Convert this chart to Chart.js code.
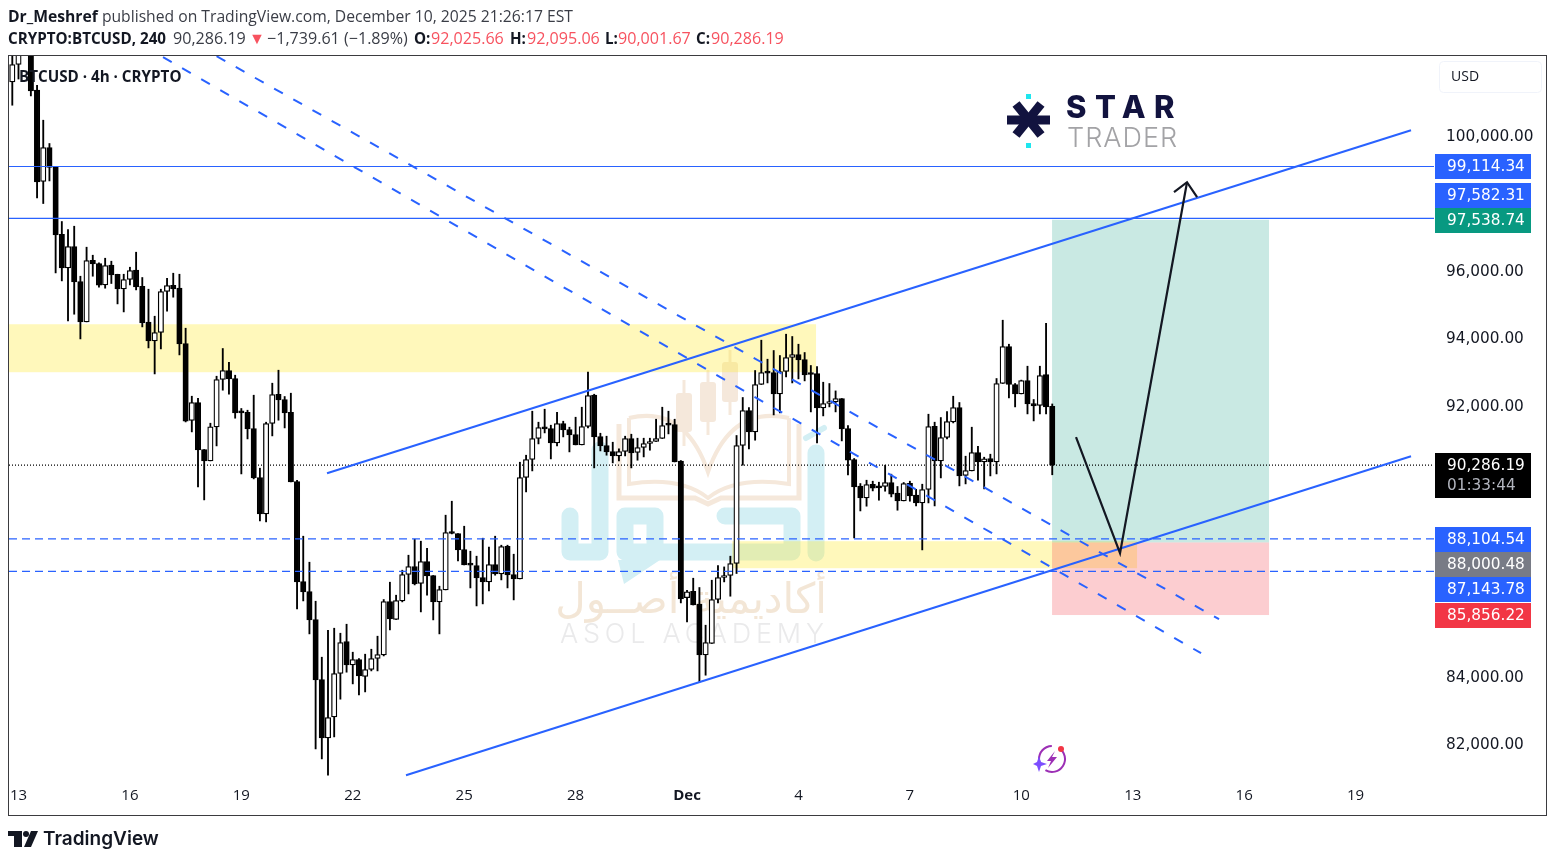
<!DOCTYPE html>
<html>
<head>
<meta charset="utf-8">
<title>BTCUSD 4h</title>
<script src="https://cdn.jsdelivr.net/npm/chart.js@4"></script>
<style>
    html, body { margin: 0; padding: 0; background: #fff; }
    #wrap { position: relative; width: 1555px; height: 862px; overflow: hidden; }
    canvas { position: absolute; left: 0; top: 0; }
    .row { position: absolute; left: 8px; white-space: nowrap; font-family: "Open Sans", sans-serif; font-size: 15.7px; line-height: 20px; color: #3a3d46; }
    .row span { position: absolute; top: 0; }
    b { color: #131722; font-weight: 700; }
    .tight { font-size: 16.1px; }
    .tight b { font-size: 15.2px; }
    .red { color: #f7525f; }
</style>
</head>
<body>
<div id="wrap">
    <canvas id="myChart" width="1555" height="862"></canvas>
    <div class="row" style="top:6px"><b>Dr_Meshref</b> published on TradingView.com, December 10, 2025 21:26:17 EST</div>
    <div class="row tight" style="top:28px;left:0">
        <span style="left:8px"><b>CRYPTO:BTCUSD, 240</b></span>
        <span style="left:173px">90,286.19</span>
        <span style="left:249px" class="red">▼</span>
        <span style="left:267px">−1,739.61 (−1.89%)</span>
        <span style="left:414px"><b>O:</b></span><span style="left:431px" class="red">92,025.66</span>
        <span style="left:510px"><b>H:</b></span><span style="left:527px" class="red">92,095.06</span>
        <span style="left:605px"><b>L:</b></span><span style="left:618px" class="red">90,001.67</span>
        <span style="left:696px"><b>C:</b></span><span style="left:711px" class="red">90,286.19</span>
    </div>
</div>
<script>
// 4h candles, index 0 = first candle on screen
const opens = [
    101615,102130,102550,102850,101370,98671,99676,99102,97113,96117,
    96749,95715,94521,96344,96247,95614,96197,95930,95496,95774,
    96049,95576,94512,93959,94207,95419,95605,95517,93882,91606,
    92138,90749,90412,91417,92818,93084,92847,91851,91851,91369,
    89921,88845,91517,92383,92226,91851,89803,86847,86551,85723,
    83950,82224,82844,84127,85073,84381,84541,84038,84245,84570,
    84677,86255,85723,86273,87053,87290,86788,87438,87024,86244,
    86598,88289,88265,87792,87349,87320,86965,86835,87349,87071,
    87890,87053,86923,89921,90453,91074,91399,91369,90944,91517,
    91340,91192,90885,91429,92354,91133,90867,90690,90559,90690,
    91074,90660,90808,90926,90985,91074,91488,91488,90403,86368,
    86560,86176,84677,85014,86314,86965,87024,87379,90867,91901,
    91269,92670,93025,93025,92392,93054,93468,93557,93409,92995,
    92995,91978,92108,92156,92256,91369,90453,89664,89318,89723,
    89655,89655,89773,89457,89229,89752,89398,89170,89566,91437,
    90412,91103,91564,91990,89980,90116,90660,90382,90483,90382,
    92700,93793,92670,92392,92788,92108,92050,92965,92025.66
];
const closes = [
    102130,102550,102950,101349,98659,99676,99085,97092,96117,96749,
    95703,94521,96335,96235,95605,96188,95910,95496,95774,96040,
    95555,94491,93959,94207,95419,95596,95496,93870,91585,92138,
    90737,90412,91417,92818,93084,92836,91831,91831,91358,89909,
    88845,91517,92374,92215,91831,89791,86835,86539,85712,83938,
    82224,82826,84127,85043,84381,84541,84056,84245,84570,84688,
    86255,85741,86285,87053,87290,86776,87438,87012,86244,86610,
    88295,88265,87781,87337,87331,86953,86835,87349,87071,87881,
    87042,86923,89921,90453,91074,91399,91358,90944,91517,91328,
    91180,90885,91429,92345,91121,90855,90678,90559,90690,91074,
    90648,90808,90926,90985,91074,91458,91470,90382,86333,86545,
    86152,84677,85043,86314,86965,87024,87379,90867,91901,91269,
    92670,93025,93007,92392,93054,93468,93557,93397,92954,92966,
    91978,92108,92156,92256,91358,90432,89643,89318,89714,89605,
    89613,89773,89427,89229,89743,89377,89170,89566,91429,90412,
    91103,91576,91990,89968,90128,90660,90382,90471,90382,92700,
    93793,92670,92392,92788,92097,92038,92936,92008,90286.19
];
const highs = [
    102550,102850,103100,103000,101517,100483,99794,99102,97488,97252,
    97349,95871,96729,96492,96265,96403,96315,95930,95930,96137,
    96581,95833,95487,94689,95487,95812,95960,95930,94334,92324,
    92265,90749,91526,92915,93734,93329,92945,91961,91910,92354,
    90196,91556,92709,93093,92315,92413,89841,88186,87417,86264,
    84609,85407,85466,85318,85584,84757,84570,84698,84845,85230,
    86314,86826,86442,87181,87624,88097,88038,87831,87024,86708,
    88807,89220,88265,88481,87742,87595,88127,87861,88186,87920,
    87920,87654,90373,90580,91881,91556,91940,91467,91851,91585,
    91408,91703,91999,93034,92383,91230,91142,90964,90766,91142,
    91201,91083,91083,91083,91644,91999,91881,91644,90423,86589,
    86944,86669,85555,86885,87320,87278,87595,91163,92286,91990,
    93084,93980,93418,93675,93527,94157,94089,93861,93616,93232,
    93202,92738,92699,92481,92256,91458,90483,89743,89841,89812,
    89782,90285,90019,89655,89773,89812,89575,89723,91792,91556,
    91694,91872,92324,92138,90551,91408,90846,90521,90610,92847,
    94571,93861,92700,92800,93211,92227,93211,94482,92095.06
];
const lows = [
    100926,101700,102450,101201,98186,98020,98688,95969,95733,94550,
    94748,94018,94521,95871,95546,95517,95656,95053,94816,95614,
    95467,94373,93752,92983,93722,94837,95251,93545,91564,91269,
    89643,89259,90412,90855,92502,92383,91674,90027,91062,89880,
    88638,88609,91151,91615,91387,89791,86036,86273,85298,81898,
    81603,81121,82253,83368,84166,83820,83495,83583,84204,84204,
    84647,85416,85723,86244,86480,86746,85948,86442,85712,85298,
    86598,88254,87456,87337,86657,86125,86185,86569,87033,86894,
    86657,86303,86923,89495,90116,90914,91239,90471,90855,91121,
    90678,90885,90885,91387,90205,90707,90580,90352,90412,90559,
    90205,90432,90530,90728,90985,91074,91210,90382,86214,85652,
    86152,83879,84077,85014,86214,86835,86412,87083,90285,90766,
    91024,92670,92717,91771,91831,92895,92717,92836,92777,91860,
    90944,91742,92008,91860,91003,89998,88135,88933,89073,89525,
    89250,89516,89348,88954,89229,89220,89081,87781,89170,89081,
    89909,91062,91535,89673,89732,90116,89841,89584,89968,90027,
    92700,92274,92008,92392,91801,91594,91801,91801,90001.67
];

const dayTickIdx = [1, 19, 37, 55, 73, 91, 109, 127, 145, 163, 181, 199, 217];
const dayTickLabels = ['13', '16', '19', '22', '25', '28', 'Dec', '4', '7', '10', '13', '16', '19'];
const priceTicks = [82000, 84000, 92000, 94000, 96000, 100000];

const xMin = -0.533, xMax = 229.67;
const yMin = 80920, yMax = 102381;

// price levels and drawings
const solidLevels = [99114.34, 97582.31];
const dashedLevels = [88104.54, 87143.78];
const lastPrice = 90286.19;
const upperChannelX = [50.84, 225.96], upperChannelY = [90048, 100187];
const lowerChannelX = [63.6, 225.96], lowerChannelY = [81121, 90551];
const dashAX = [24.35, 192.04], dashAY = [102345, 84727];
const dashBX = [33.0, 194.94], dashBY = [102375, 85732];
const arrowX = [171.84, 178.95, 189.77], arrowY = [91112, 87683, 98650];
const arrowHeadX = [187.67, 189.77, 191.4], arrowHeadY = [98354, 98650, 98206];

// boxes: x from, x to, price top, price bottom
const zoneUpper = [xMin, 129.84, 94452, 93034];
const zoneLower = [116.3, 181.7, 88038, 87240];
const targetBox = [167.97, 203.02, 97538.74, 88000.48];
const stopBox = [167.97, 203.02, 88000.48, 85856.22];

const tagValues = [99114.34, 97582.31, 97538.74, 90286.19, 88104.54, 88000.48, 87143.78, 85856.22];
const tagColors = ['#2962ff', '#2962ff', '#089981', '#000000', '#2962ff', '#787b86', '#2962ff', '#f23645'];
const tagTops = [154, 183, 208, 453, 527, 552, 577, 603];
const tagHeights = [25, 25, 25, 45, 25, 25, 25, 25];
const countdown = '01:33:44';

const idx = opens.map((v, i) => i);
const fmt = v => v.toLocaleString('en-US', { minimumFractionDigits: 2, maximumFractionDigits: 2 });

function lineSet(xs, ys, color, width, dash) {
    return {
        type: 'line',
        data: xs.map((x, i) => ({ x: x, y: ys[i] })),
        borderColor: color,
        borderWidth: width,
        borderDash: dash || [],
        pointRadius: 0,
        tension: 0,
        order: 0
    };
}

function polyline(ctx, pts) {
    ctx.beginPath();
    pts.forEach((p, i) => i ? ctx.lineTo(p[0], p[1]) : ctx.moveTo(p[0], p[1]));
    ctx.stroke();
}

// watermark of the publisher, sits under everything
function drawWatermark(ctx) {
    ctx.save();
    ctx.fillStyle = '#f5e8db';
    ctx.strokeStyle = '#f5e8db';
    [[684, 393, 432, 380, 446], [708, 382, 422, 370, 435], [730, 362, 402, 350, 415]].forEach(c => {
        ctx.lineWidth = 3;
        polyline(ctx, [[c[0], c[3]], [c[0], c[4]]]);
        ctx.beginPath();
        ctx.roundRect(c[0] - 8, c[1], 16, c[2] - c[1], 3);
        ctx.fill();
    });
    ctx.lineWidth = 5;
    polyline(ctx, [[619, 424], [619, 498], [695, 498], [708, 504], [721, 498], [799, 498], [799, 424]]);
    ctx.lineWidth = 4;
    ctx.beginPath();
    ctx.moveTo(629, 418);
    ctx.quadraticCurveTo(685, 405, 708, 472);
    ctx.quadraticCurveTo(731, 405, 789, 418);
    ctx.moveTo(629, 418);
    ctx.lineTo(629, 484);
    ctx.quadraticCurveTo(680, 476, 708, 498);
    ctx.quadraticCurveTo(736, 476, 789, 484);
    ctx.lineTo(789, 418);
    ctx.stroke();

    ctx.strokeStyle = '#d3eff4';
    ctx.fillStyle = '#d3eff4';
    ctx.lineWidth = 17;
    ctx.lineJoin = 'round';
    ctx.lineCap = 'round';
    polyline(ctx, [[570, 516], [570, 552], [600, 552], [600, 450]]);
    polyline(ctx, [[625, 516], [655, 516], [655, 552], [625, 552], [625, 516]]);
    polyline(ctx, [[655, 552], [792, 552], [792, 516], [725, 516]]);
    polyline(ctx, [[816, 453], [816, 553]]);
    ctx.lineWidth = 6;
    polyline(ctx, [[806, 438], [824, 428]]);
    ctx.beginPath();
    ctx.moveTo(618, 560);
    ctx.lineTo(660, 560);
    ctx.lineTo(624, 584);
    ctx.fill();

    ctx.fillStyle = '#f3e6d6';
    ctx.font = '42px "DejaVu Sans"';
    ctx.textAlign = 'right';
    ctx.textBaseline = 'alphabetic';
    ctx.direction = 'rtl';
    ctx.fillText('أكاديمية أصــول', 827, 613);
    ctx.direction = 'ltr';
    ctx.textAlign = 'left';
    ctx.fillStyle = '#eaeaeb';
    ctx.font = '300 27px Inter';
    ctx.letterSpacing = '4.8px';
    ctx.fillText('ASOL ACADEMY', 560, 643);
    ctx.letterSpacing = '0px';
    ctx.restore();
}

function drawBox(ctx, x, y, box, color) {
    const l = x.getPixelForValue(box[0]), r = x.getPixelForValue(box[1]);
    const t = y.getPixelForValue(box[2]), b = y.getPixelForValue(box[3]);
    ctx.fillStyle = color;
    ctx.fillRect(l, t, r - l, b - t);
}

const backdrop = {
    id: 'backdrop',
    beforeDatasetsDraw(chart) {
        const ctx = chart.ctx, x = chart.scales.x, y = chart.scales.y;
        drawWatermark(ctx);
        drawBox(ctx, x, y, zoneUpper, 'rgba(255,235,59,0.35)');
        drawBox(ctx, x, y, zoneLower, 'rgba(255,235,59,0.35)');
        drawBox(ctx, x, y, targetBox, 'rgba(8,153,129,0.22)');
        drawBox(ctx, x, y, stopBox, 'rgba(242,54,69,0.25)');
    }
};

function drawStarLogo(ctx) {
    ctx.save();
    ctx.strokeStyle = '#12133f';
    ctx.lineWidth = 9;
    polyline(ctx, [[1007, 120], [1050, 120]]);
    polyline(ctx, [[1016, 104], [1041, 135]]);
    polyline(ctx, [[1041, 104], [1016, 135]]);
    ctx.fillStyle = '#1ee6ee';
    ctx.fillRect(1026, 94, 5, 5);
    ctx.fillRect(1026, 143, 5, 5);
    ctx.textAlign = 'left';
    ctx.textBaseline = 'alphabetic';
    ctx.fillStyle = '#12133f';
    ctx.font = '800 31px Inter';
    ctx.letterSpacing = '8.5px';
    ctx.fillText('STAR', 1066, 118);
    ctx.fillStyle = '#a3a3a6';
    ctx.font = '300 27px Inter';
    ctx.letterSpacing = '1px';
    ctx.fillText('TRADER', 1067, 147);
    ctx.letterSpacing = '0px';
    ctx.restore();
}

function drawBoltIcon(ctx) {
    ctx.save();
    ctx.strokeStyle = '#9c2fb5';
    ctx.lineWidth = 2;
    ctx.beginPath();
    ctx.arc(1052, 759, 13, -1.0, 2.1);
    ctx.stroke();
    ctx.beginPath();
    ctx.arc(1052, 759, 13, 2.7, 4.7);
    ctx.stroke();
    ctx.fillStyle = '#9c2fb5';
    ctx.beginPath();
    [[1055, 751], [1047, 761], [1051, 761], [1048, 768], [1057, 757], [1052, 757]].forEach((p, i) => i ? ctx.lineTo(p[0], p[1]) : ctx.moveTo(p[0], p[1]));
    ctx.fill();
    ctx.fillStyle = '#f23645';
    ctx.beginPath();
    ctx.arc(1061, 749, 3, 0, Math.PI * 2);
    ctx.fill();
    ctx.fillStyle = '#7c4dff';
    ctx.beginPath();
    [[1039, 756], [1041, 762], [1047, 764], [1041, 766], [1039, 772], [1037, 766], [1033, 764], [1037, 762]].forEach((p, i) => i ? ctx.lineTo(p[0], p[1]) : ctx.moveTo(p[0], p[1]));
    ctx.fill();
    ctx.restore();
}

function drawTvLogo(ctx) {
    ctx.save();
    ctx.fillStyle = '#131722';
    ctx.fillRect(8, 831, 14, 5);
    ctx.fillRect(14, 831, 8, 16);
    ctx.beginPath();
    ctx.arc(26, 834, 3, 0, Math.PI * 2);
    ctx.fill();
    ctx.beginPath();
    ctx.moveTo(31, 831);
    ctx.lineTo(38, 831);
    ctx.lineTo(31, 847);
    ctx.lineTo(24, 847);
    ctx.fill();
    ctx.font = '600 19px Inter';
    ctx.textAlign = 'left';
    ctx.textBaseline = 'alphabetic';
    ctx.fillText('TradingView', 43, 845);
    ctx.restore();
}

const overlay = {
    id: 'overlay',
    afterDraw(chart) {
        const ctx = chart.ctx;
        ctx.save();
        // outer frame
        ctx.strokeStyle = '#3b3b3f';
        ctx.lineWidth = 1;
        ctx.strokeRect(8.5, 55.5, 1538, 760);

        ctx.textBaseline = 'middle';
        ctx.textAlign = 'left';
        ctx.fillStyle = '#131722';
        ctx.font = 'bold 15.2px "Open Sans"';
        ctx.fillText('BTCUSD · 4h · CRYPTO', 19, 78);

        // currency box
        ctx.strokeStyle = '#f0f3fa';
        ctx.beginPath();
        ctx.roundRect(1439.5, 61.5, 102, 31, 4);
        ctx.stroke();
        ctx.fillStyle = '#131722';
        ctx.font = '14px "Open Sans"';
        ctx.fillText('USD', 1451, 77);

        // price tags
        ctx.font = '15.3px "DejaVu Sans"';
        tagValues.forEach((v, i) => {
            ctx.fillStyle = tagColors[i];
            ctx.fillRect(1435, tagTops[i], 96, tagHeights[i]);
            ctx.fillStyle = '#ffffff';
            ctx.fillText(fmt(v), 1447, tagTops[i] + 13.5);
            if (tagHeights[i] > 25) {
                ctx.fillStyle = '#b2b5be';
                ctx.fillText(countdown, 1447, tagTops[i] + 33);
            }
        });
        ctx.restore();
        drawStarLogo(ctx);
        drawBoltIcon(ctx);
        drawTvLogo(ctx);
    }
};

const ctx = document.getElementById('myChart');

new Chart(ctx, {
    data: {
        datasets: [
            lineSet(arrowX, arrowY, '#131722', 2.2),
            lineSet(arrowHeadX, arrowHeadY, '#131722', 2.2),
            lineSet(upperChannelX, upperChannelY, '#2962ff', 2),
            lineSet(lowerChannelX, lowerChannelY, '#2962ff', 2),
            lineSet(dashAX, dashAY, '#2962ff', 2, [10, 12]),
            lineSet(dashBX, dashBY, '#2962ff', 2, [10, 12]),
            lineSet([xMin, xMax], [solidLevels[0], solidLevels[0]], '#2962ff', 1.2),
            lineSet([xMin, xMax], [solidLevels[1], solidLevels[1]], '#2962ff', 1.2),
            lineSet([xMin, xMax], [dashedLevels[0], dashedLevels[0]], '#2962ff', 1.2, [8, 5]),
            lineSet([xMin, xMax], [dashedLevels[1], dashedLevels[1]], '#2962ff', 1.2, [8, 5]),
            {
                type: 'bar',
                data: idx.map(i => ({ x: i, y: [opens[i], closes[i]] })),
                backgroundColor: idx.map(i => closes[i] >= opens[i] ? '#ffffff' : '#000000'),
                borderColor: '#000000',
                borderWidth: 1.3,
                borderSkipped: false,
                barThickness: 5.4,
                grouped: false,
                minBarLength: 2,
                order: 1
            },
            {
                type: 'bar',
                data: idx.map(i => ({ x: i, y: [lows[i], highs[i]] })),
                backgroundColor: '#000000',
                barThickness: 1.2,
                grouped: false,
                order: 2
            },
            Object.assign(lineSet([xMin, xMax], [lastPrice, lastPrice], '#000000', 1.2, [1, 2]), { order: 3 })
        ]
    },
    options: {
        responsive: false,
        animation: false,
        layout: { padding: { left: 9, top: 56, right: 8, bottom: 47 } },
        plugins: {
            legend: { display: false },
            tooltip: { enabled: false }
        },
        scales: {
            x: {
                type: 'linear',
                offset: false,
                min: xMin,
                max: xMax,
                grid: { display: false, drawTicks: false, offset: false },
                border: { display: false },
                afterBuildTicks: s => { s.ticks = dayTickIdx.map(v => ({ value: v })); },
                afterFit: s => { s.height = 33; },
                ticks: {
                    autoSkip: false,
                    maxRotation: 0,
                    padding: 5,
                    color: '#131722',
                    font: c => ({ family: '"Open Sans"', size: 15, weight: dayTickLabels[c.index] === 'Dec' ? 'bold' : 'normal' }),
                    callback: function (value) {
                        return dayTickLabels[dayTickIdx.indexOf(value)];
                    }
                }
            },
            y: {
                position: 'right',
                min: yMin,
                max: yMax,
                grid: { display: false, drawTicks: false },
                border: { display: false },
                afterBuildTicks: s => { s.ticks = priceTicks.map(v => ({ value: v })); },
                afterFit: s => { s.width = 113; },
                ticks: {
                    padding: 12,
                    crossAlign: 'near',
                    color: '#131722',
                    font: { family: '"DejaVu Sans"', size: 15.3 },
                    callback: function (value) {
                        return fmt(value);
                    }
                }
            }
        }
    },
    plugins: [backdrop, overlay]
});
</script>
</body>
</html>
